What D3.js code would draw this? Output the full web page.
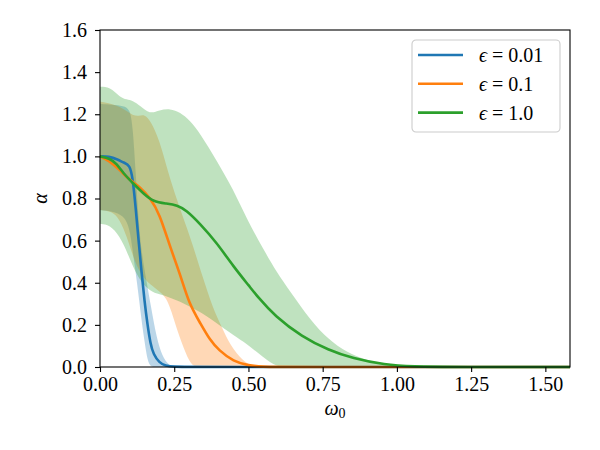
<!DOCTYPE html>
<html lang="en">
<head>
  <meta charset="UTF-8">
  <title>alpha vs omega0</title>
  <script src="https://d3js.org/d3.v7.min.js"></script>
  <style>
    body { margin: 0; background: #fff; }
    svg { font-family: "Liberation Serif", "DejaVu Serif", serif; }
    .tick text { font-size: 20px; }
  </style>
</head>
<body>
  <svg width="600" height="450"></svg>

  <script>
    // legend labels
    const labels = ["0.01", "0.1", "1.0"];
    const colors = ["#1f77b4", "#ff7f0e", "#2ca02c"];

    // eps = 0.01
    const blueX    = [0, 0.03, 0.06, 0.08, 0.10, 0.11, 0.12, 0.13, 0.14, 0.15, 0.16, 0.17, 0.18, 0.20, 0.22, 0.25, 0.30, 1.583];
    const blueMean = [1.0, 1.0, 0.985, 0.97, 0.96, 0.90, 0.76, 0.60, 0.45, 0.31, 0.20, 0.11, 0.06, 0.02, 0.006, 0.001, 0, 0];
    const blueBandX  = [0, 0.04, 0.08, 0.10, 0.11, 0.12, 0.13, 0.14, 0.15, 0.16, 0.17, 0.19, 0.21, 0.23, 0.25];
    const blueUpper  = [1.25, 1.245, 1.24, 1.225, 1.15, 0.93, 0.69, 0.55, 0.46, 0.38, 0.30, 0.14, 0.05, 0.01, 0];
    const blueLower  = [0.745, 0.74, 0.72, 0.66, 0.55, 0.45, 0.34, 0.22, 0.12, 0.03, 0, 0, 0, 0, 0];

    // eps = 0.1
    const orangeX    = [0, 0.03, 0.067, 0.10, 0.135, 0.17, 0.20, 0.236, 0.27, 0.30, 0.337, 0.37, 0.40, 0.45, 0.50, 0.55, 0.60, 1.583];
    const orangeMean = [1.0, 0.98, 0.935, 0.887, 0.855, 0.80, 0.73, 0.57, 0.44, 0.30, 0.21, 0.128, 0.08, 0.025, 0.007, 0.001, 0, 0];
    const orangeBandX = [0, 0.04, 0.067, 0.09, 0.11, 0.13, 0.15, 0.17, 0.20, 0.23, 0.26, 0.29, 0.31, 0.345, 0.38, 0.41, 0.44, 0.48, 0.51, 0.55];
    const orangeUpper = [1.26, 1.25, 1.235, 1.215, 1.195, 1.19, 1.20, 1.17, 1.08, 0.92, 0.79, 0.67, 0.59, 0.43, 0.28, 0.19, 0.10, 0.03, 0.005, 0];
    const orangeLower = [0.745, 0.74, 0.70, 0.62, 0.53, 0.46, 0.42, 0.39, 0.36, 0.32, 0.17, 0.06, 0, 0, 0, 0, 0, 0, 0, 0];

    // eps = 1.0
    const greenX    = [0, 0.033, 0.056, 0.079, 0.112, 0.146, 0.18, 0.225, 0.26, 0.29, 0.337, 0.393, 0.45, 0.505, 0.53, 0.59, 0.68, 0.77, 0.85, 0.96, 1.05, 1.2, 1.583];
    const greenMean = [1.0, 0.99, 0.966, 0.919, 0.871, 0.824, 0.784, 0.776, 0.768, 0.745, 0.68, 0.59, 0.476, 0.38, 0.335, 0.24, 0.144, 0.08, 0.041, 0.01, 0.002, 0, 0];
    const greenBandX = [0, 0.033, 0.067, 0.09, 0.11, 0.135, 0.168, 0.20, 0.236, 0.27, 0.303, 0.337, 0.393, 0.45, 0.495, 0.55, 0.595, 0.64, 0.71, 0.77, 0.83, 0.90, 0.97, 1.05, 1.10];
    const greenUpper = [1.33, 1.33, 1.28, 1.27, 1.265, 1.24, 1.20, 1.22, 1.227, 1.21, 1.17, 1.11, 0.98, 0.84, 0.70, 0.56, 0.45, 0.36, 0.22, 0.13, 0.07, 0.03, 0.01, 0.002, 0];
    const greenLower = [0.68, 0.675, 0.62, 0.55, 0.48, 0.41, 0.36, 0.345, 0.33, 0.31, 0.286, 0.262, 0.209, 0.15, 0.11, 0.045, 0, 0, 0, 0, 0, 0, 0, 0, 0];

    const xTicks = [0, 0.25, 0.5, 0.75, 1.0, 1.25, 1.5];
    const yTicks = [0, 0.2, 0.4, 0.6, 0.8, 1.0, 1.2, 1.4, 1.6];

    const series = [
      { x: blueX, mean: blueMean, bx: blueBandX, lo: blueLower, hi: blueUpper },
      { x: orangeX, mean: orangeMean, bx: orangeBandX, lo: orangeLower, hi: orangeUpper },
      { x: greenX, mean: greenMean, bx: greenBandX, lo: greenLower, hi: greenUpper }
    ];

    const svg = d3.select("svg"),
      margin = { top: 30, right: 30, bottom: 83, left: 100 },
      width = +svg.attr("width") - margin.left - margin.right,
      height = +svg.attr("height") - margin.top - margin.bottom;

    const g = svg.append("g").attr("transform", `translate(${margin.left},${margin.top})`);

    const x = d3.scaleLinear().domain([0, 1.583]).range([0, width]);
    const y = d3.scaleLinear().domain([0, 1.6]).range([height, 0]);

    const area = d3.area()
      .x(d => x(d[0]))
      .y0(d => y(d[1]))
      .y1(d => y(d[2]))
      .curve(d3.curveBasis);

    const line = d3.line()
      .x(d => x(d[0]))
      .y(d => y(d[1]))
      .curve(d3.curveBasis);

    // bands
    series.forEach((s, i) => {
      g.append("path")
        .datum(s.bx.map((v, k) => [v, s.lo[k], s.hi[k]]))
        .attr("d", area)
        .attr("fill", colors[i])
        .attr("fill-opacity", 0.3);
    });

    // mean lines
    series.forEach((s, i) => {
      g.append("path")
        .datum(s.x.map((v, k) => [v, s.mean[k]]))
        .attr("d", line)
        .attr("fill", "none")
        .attr("stroke", colors[i])
        .attr("stroke-width", 2.6);
    });

    // X Axis
    const xAxis = g.append("g")
      .attr("transform", `translate(0,${height})`)
      .call(d3.axisBottom(x).tickValues(xTicks).tickFormat(d3.format(".2f")).tickSize(5).tickPadding(5));

    // Y Axis
    const yAxis = g.append("g")
      .call(d3.axisLeft(y).tickValues(yTicks).tickFormat(d3.format(".1f")).tickSize(5).tickPadding(8));

    [xAxis, yAxis].forEach(a => {
      a.select(".domain").remove();
      a.selectAll(".tick line").attr("stroke", "#000").attr("stroke-width", 1.1);
      a.selectAll(".tick text").attr("fill", "#000").style("font-family", "'Liberation Serif', 'DejaVu Serif', serif");
    });

    // frame
    g.append("rect")
      .attr("width", width)
      .attr("height", height)
      .attr("fill", "none")
      .attr("stroke", "#000")
      .attr("stroke-width", 1.1);

    // axis labels
    svg.append("text")
      .attr("transform", `translate(47,${margin.top + height / 2}) rotate(-90)`)
      .attr("text-anchor", "middle")
      .style("font-size", "20px")
      .style("font-style", "italic")
      .text("α");

    const xl = svg.append("text")
      .attr("x", margin.left + width / 2)
      .attr("y", 415)
      .attr("text-anchor", "middle")
      .style("font-size", "20px");
    xl.append("tspan").style("font-style", "italic").text("ω");
    xl.append("tspan").attr("dy", 3).style("font-size", "14px").text("0");

    // legend
    const leg = svg.append("g").attr("transform", "translate(412,40)");
    leg.append("rect")
      .attr("width", 148)
      .attr("height", 92)
      .attr("rx", 4)
      .attr("fill", "#fff")
      .attr("fill-opacity", 0.8)
      .attr("stroke", "#cccccc")
      .attr("stroke-width", 1.1);

    labels.forEach((lab, i) => {
      const row = leg.append("g").attr("transform", `translate(0,${15 + i * 28.8})`);
      row.append("line")
        .attr("x1", 6).attr("x2", 51)
        .attr("stroke", colors[i])
        .attr("stroke-width", 2.6);
      const t = row.append("text")
        .attr("x", 67)
        .attr("y", 7)
        .style("font-size", "20px");
      t.append("tspan").style("font-style", "italic").text("ϵ");
      t.append("tspan").text(" = " + lab);
    });
  </script>
</body>
</html>
